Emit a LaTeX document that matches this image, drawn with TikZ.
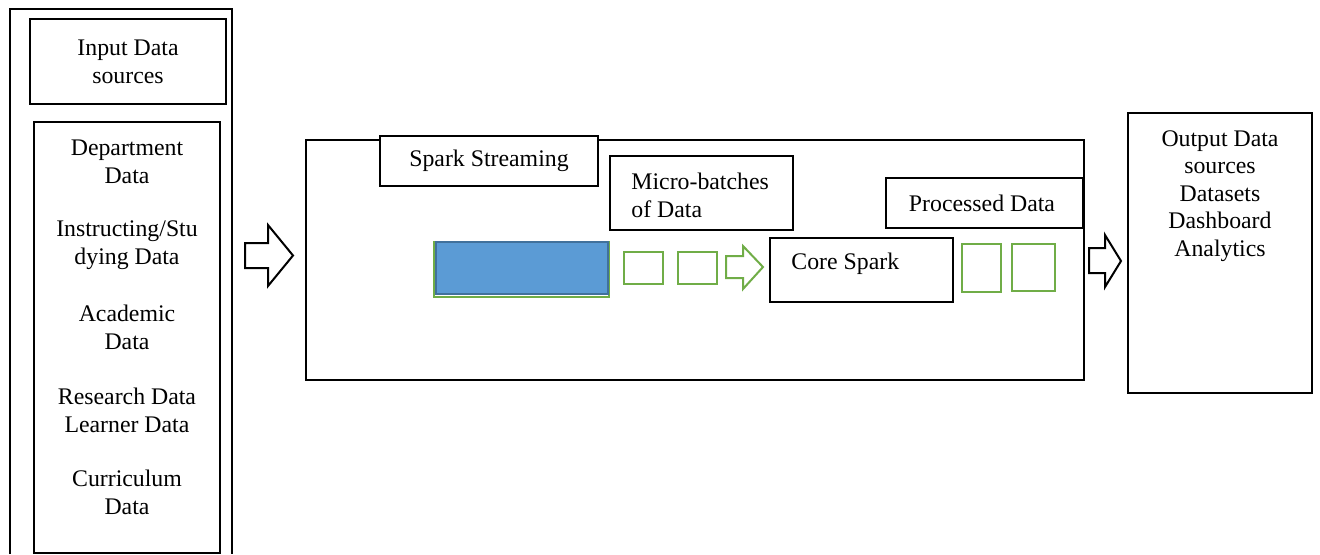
\documentclass[tikz,border=0pt]{standalone}
\usepackage{fontspec}
\setmainfont{Liberation Serif}
\usetikzlibrary{fit}
\definecolor{grn}{HTML}{70AD47}
\definecolor{blu}{HTML}{5B9BD5}
\definecolor{dblu}{HTML}{41719C}
\tikzset{
  box/.style={draw=black, line width=1pt, inner sep=0pt, rectangle},
  gbox/.style={draw=grn, line width=1pt, inner sep=0pt, rectangle},
  txt/.style={inner sep=0pt, align=center, font=\fontsize{11.9}{13.75}\selectfont},
  ltxt/.style={txt, align=left, anchor=west},
  barrow/.style={draw=black, line width=1pt, fill=white, line join=miter},
  garrow/.style={draw=grn, line width=1pt, fill=white, line join=miter}
}
\begin{document}
\begin{tikzpicture}[x=0.5pt, y=-0.5pt]
\useasboundingbox (0,0) rectangle (1320,554);
% left column
\draw[line width=1pt] (10,554) -- (10,9) -- (232,9) -- (232,554);
\node[box, fit={(30,19)(226,104)}] (inhead) {};
\node[txt] (inheadt) at (128,62) {Input Data\\sources};
\node[box, fit={(34,122)(220,553)}] (inlist) {};
\node[txt] (g1) at (127,162) {Department\\Data};
\node[txt] (g2) at (127,245) {Instructing/Stu\\dying Data};
\node[txt] (g3) at (127,327.5) {Academic\\Data};
\node[txt] (g4) at (127,410.5) {Research Data\\Learner Data};
\node[txt] (g5) at (127,492.5) {Curriculum\\Data};
% arrow 1
\draw[barrow] (245,243) -- (268,243) -- (268,225) -- (293,255.5) -- (268,286) -- (268,268) -- (245,268) -- cycle;
% middle
\node[box, fit={(306,140)(1084,380)}] (mid) {};
\node[box, fill=white, fit={(380,136)(598,186)}] (ss) {};
\node[txt] (sst) at (489,161) {Spark Streaming};
\node[box, fill=white, fit={(610,156)(793,230)}] (mb) {};
\node[ltxt] (mbt) at (631,195.5) {Micro-batches\\of Data};
\node[gbox, fit={(434,242)(609,297)}] (stream) {};
\node[draw=dblu, line width=1pt, fill=blu, inner sep=0pt, fit={(436,242)(608,294)}] (streamfill) {};
\node[gbox, fit={(624,252)(663,284)}] (b1) {};
\node[gbox, fit={(678,252)(717,284)}] (b2) {};
\draw[garrow] (726,256) -- (743,256) -- (743,246) -- (763,267) -- (743,289) -- (743,278) -- (726,278) -- cycle;
\node[box, fill=white, fit={(770,238)(953,302)}] (core) {};
\node[ltxt] (coret) at (791,264) {Core Spark};
\node[box, fill=white, fit={(886,178)(1083,228)}] (proc) {};
\node[txt] (proct) at (982,203) {Processed Data};
\node[gbox, fit={(962,244)(1001,292)}] (p1) {};
\node[gbox, fit={(1012,244)(1055,291)}] (p2) {};
% arrow 2
\draw[barrow] (1089,248) -- (1105,248) -- (1105,235) -- (1121,261) -- (1105,287) -- (1105,273) -- (1089,273) -- cycle;
% output
\node[box, fit={(1128,113)(1312,393)}] (out) {};
\node[txt] (outt) at (1220,196) {Output Data\\sources\\Datasets\\Dashboard\\Analytics};
\end{tikzpicture}
\end{document}
